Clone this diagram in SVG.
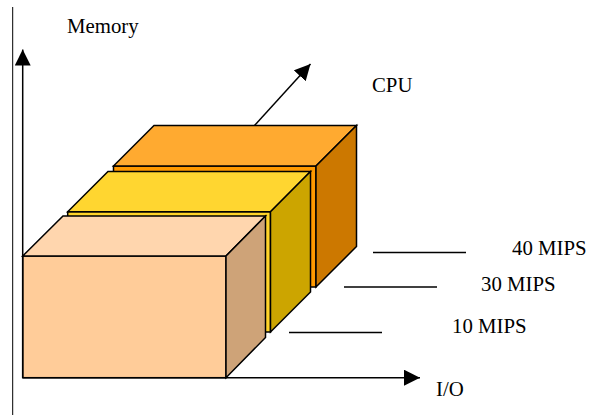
<svg xmlns="http://www.w3.org/2000/svg" width="604" height="415" viewBox="0 0 604 415">
<style>
.face{stroke:#000;stroke-width:1.5;stroke-linejoin:miter}
.ln{stroke:#000;stroke-width:1.5;fill:none}
.tick{stroke:#000;stroke-width:1.3}
.lbl{font-family:"Liberation Serif","Times New Roman",serif;font-size:20.8px;fill:#000}
.o-f{fill:#FF9900}.o-t{fill:#FFAA30}.o-s{fill:#CC7800}
.y-f{fill:#FFD42A}.y-t{fill:#FFD630}.y-s{fill:#CCA500}
.p-f{fill:#FFCC99}.p-t{fill:#FFD6AE}.p-s{fill:#CEA378}
</style>
<defs>
<marker id="ah" viewBox="0 0 16 16" refX="16" refY="8" markerWidth="16" markerHeight="16" markerUnits="userSpaceOnUse" orient="auto">
<path d="M0,0 L16,8 L0,16 Z" fill="#000"/>
</marker>
</defs>
<line x1="12.7" y1="7" x2="12.7" y2="415" stroke="#000" stroke-width="1"/>
<g id="box-cpu40">
<rect class="face o-f" x="113.5" y="166" width="202.5" height="121"/>
<path class="face o-t" d="M113.5,166 L154,125.5 L356.5,125.5 L316,166 Z"/>
<path class="face o-s" d="M316,166 L356.5,125.5 L356.5,246.5 L316,287 Z"/>
</g>
<g id="box-cpu30">
<rect class="face y-f" x="67.7" y="211.7" width="202.8" height="120.3"/>
<path class="face y-t" d="M67.7,211.7 L108,171.5 L310.5,171.5 L270.5,211.7 Z"/>
<path class="face y-s" d="M270.5,211.7 L310.5,171.5 L310.5,292 L270.5,332 Z"/>
</g>
<g id="box-cpu10">
<rect class="face p-f" x="22.7" y="256" width="203.3" height="121.7"/>
<path class="face p-t" d="M22.7,256 L63,216 L265.5,216 L226,256 Z"/>
<path class="face p-s" d="M226,256 L265.5,216 L265.5,337.5 L226,377.7 Z"/>
</g>
<g id="connectors">
<line class="ln" x1="22.7" y1="377.7" x2="22.7" y2="49.5" marker-end="url(#ah)"/>
<line class="ln" x1="22.7" y1="377.7" x2="420" y2="377.7" marker-end="url(#ah)"/>
<line class="ln" x1="254.5" y1="125.5" x2="310.5" y2="64" marker-end="url(#ah)"/>
<line class="tick" x1="373" y1="252.5" x2="466" y2="252.5"/>
<line class="tick" x1="344" y1="287" x2="437" y2="287"/>
<line class="tick" x1="289" y1="332.5" x2="382" y2="332.5"/>
</g>
<g id="label-memory"><text class="lbl" x="67" y="33">Memory</text></g>
<g id="label-cpu"><text class="lbl" x="372" y="92">CPU</text></g>
<g id="label-io"><text class="lbl" x="436" y="396">I/O</text></g>
<g id="label-40"><text class="lbl" x="512" y="255">40 MIPS</text></g>
<g id="label-30"><text class="lbl" x="481" y="291">30 MIPS</text></g>
<g id="label-10"><text class="lbl" x="452" y="333">10 MIPS</text></g>
</svg>
